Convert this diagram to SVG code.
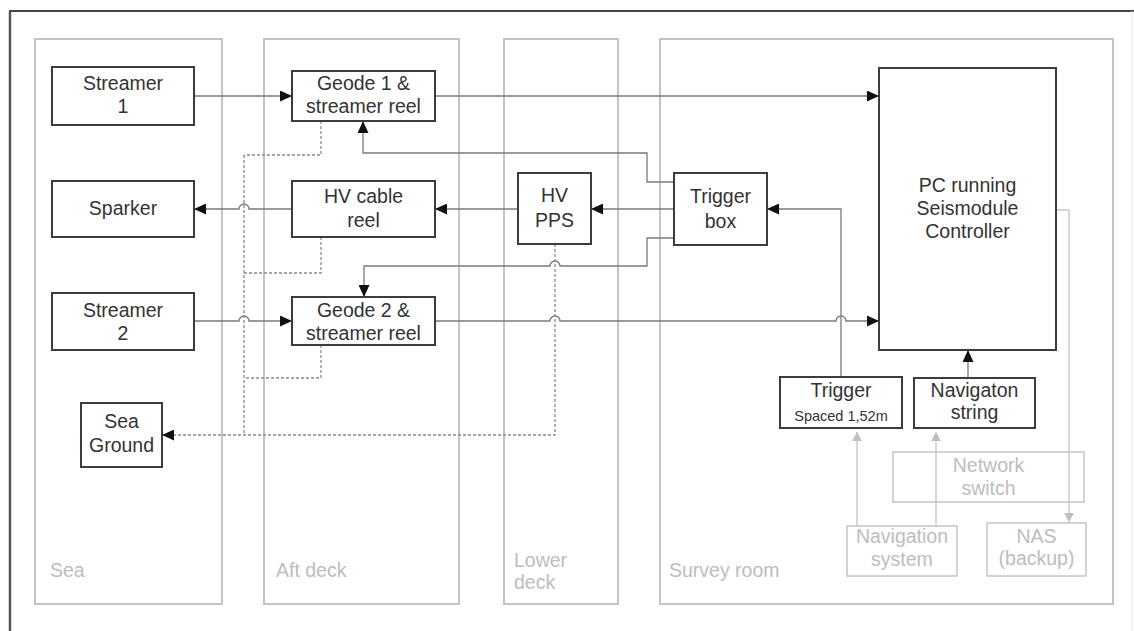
<svg xmlns="http://www.w3.org/2000/svg" width="1134" height="631" viewBox="0 0 1134 631">
<defs>
<style>
text{font-family:"Liberation Sans",Arial,sans-serif;font-size:19.5px;text-anchor:middle;fill:#333}
.zone{fill:none;stroke:#c4c4c4;stroke-width:2}
.zl{fill:#bdbdbd;text-anchor:start}
.box{fill:#fff;stroke:#3c3c3c;stroke-width:2}
.gbox{fill:none;stroke:#c4c4c4;stroke-width:1.5}
.gt{fill:#bdbdbd}
.small{font-size:14.5px}
.c{fill:none;stroke:#7a7a7a;stroke-width:1.3}
.d{fill:none;stroke:#8a8a8a;stroke-width:1.3;stroke-dasharray:3 2}
.g{fill:none;stroke:#c4c4c4;stroke-width:1.3}
</style>
<marker id="a" markerWidth="12" markerHeight="11" refX="12" refY="5.5" orient="auto" markerUnits="userSpaceOnUse"><path d="M0,0 L12,5.5 L0,11 z" fill="#111"/></marker>
<marker id="ga" markerWidth="9" markerHeight="10" refX="9" refY="5" orient="auto" markerUnits="userSpaceOnUse"><path d="M0,0 L9,5 L0,10 z" fill="#c0c0c0"/></marker>
</defs>
<rect x="0" y="0" width="1134" height="631" fill="#fff"/>
<g id="frame">
<line x1="9" y1="11" x2="1134" y2="11" stroke="#444" stroke-width="2"/>
<line x1="10" y1="11" x2="10" y2="631" stroke="#555" stroke-width="2.5"/>
<line x1="1132" y1="11" x2="1132" y2="631" stroke="#e4e4e4" stroke-width="1"/>
</g>
<g id="zones">
<rect class="zone" x="35" y="39" width="187" height="565"/>
<text class="zl" x="50" y="577">Sea</text>
<rect class="zone" x="264" y="39" width="195" height="565"/>
<text class="zl" x="276" y="577">Aft deck</text>
<rect class="zone" x="504" y="39" width="114" height="565"/>
<text class="zl" x="514" y="567">Lower</text>
<text class="zl" x="514" y="589">deck</text>
<rect class="zone" x="660" y="39" width="453" height="565"/>
<text class="zl" x="669" y="577">Survey room</text>
</g>
<g id="connectors">
<path class="c" d="M194,96 H292" marker-end="url(#a)"/>
<path class="c" d="M435,96 H879" marker-end="url(#a)"/>
<path class="c" d="M674,182 H647 V153 H363 V121" marker-end="url(#a)"/>
<path class="c" d="M292,209 H249 A5 5 0 0 0 239,209 H194" marker-end="url(#a)"/>
<path class="c" d="M518,209 H435" marker-end="url(#a)"/>
<path class="c" d="M674,209 H591" marker-end="url(#a)"/>
<path class="c" d="M841,377 V209 H767" marker-end="url(#a)"/>
<path class="c" d="M674,238 H647 V266 H560 A5 5 0 0 0 550,266 H364 V297" marker-end="url(#a)"/>
<path class="c" d="M194,321 H239 A5 5 0 0 1 249,321 H292" marker-end="url(#a)"/>
<path class="c" d="M435,321 H550 A5 5 0 0 1 560,321 H836 A5 5 0 0 1 846,321 H879" marker-end="url(#a)"/>
<path class="c" d="M968,378 V350" marker-end="url(#a)"/>
<path class="d" d="M321,121 V155 H244"/>
<path class="d" d="M321,237 V273 H244"/>
<path class="d" d="M321,345 V378 H244"/>
<path class="d" d="M244,155 V435"/>
<path class="d" d="M555,244 V435 H162" marker-end="url(#a)"/>
<path class="g" d="M857,526 V432" marker-end="url(#ga)"/>
<path class="g" d="M936,526 V432" marker-end="url(#ga)"/>
<path class="g" d="M1056,210 H1069 V522" marker-end="url(#ga)"/>
</g>
<g id="streamer1"><rect class="box" x="52" y="67" width="142" height="58"/><text x="123" y="90">Streamer</text><text x="123" y="113">1</text></g>
<g id="sparker"><rect class="box" x="52" y="181" width="142" height="56"/><text x="123" y="215">Sparker</text></g>
<g id="streamer2"><rect class="box" x="52" y="293" width="142" height="57"/><text x="123" y="317">Streamer</text><text x="123" y="340">2</text></g>
<g id="seaground"><rect class="box" x="81" y="403" width="81" height="64"/><text x="121.5" y="428">Sea</text><text x="121.5" y="452">Ground</text></g>
<g id="geode1"><rect class="box" x="292" y="71" width="143" height="50"/><text x="363.5" y="90">Geode 1 &amp;</text><text x="363.5" y="113">streamer reel</text></g>
<g id="hvreel"><rect class="box" x="292" y="181" width="143" height="56"/><text x="363.5" y="203">HV cable</text><text x="363.5" y="227">reel</text></g>
<g id="geode2"><rect class="box" x="292" y="297" width="143" height="48"/><text x="363.5" y="317">Geode 2 &amp;</text><text x="363.5" y="340">streamer reel</text></g>
<g id="hvpps"><rect class="box" x="518" y="173" width="73" height="71"/><text x="554.5" y="202">HV</text><text x="554.5" y="227">PPS</text></g>
<g id="triggerbox"><rect class="box" x="674" y="173" width="93" height="72"/><text x="720.5" y="203">Trigger</text><text x="720.5" y="228">box</text></g>
<g id="pc"><rect class="box" x="879" y="68" width="177" height="282"/><text x="967.5" y="192">PC running</text><text x="967.5" y="215">Seismodule</text><text x="967.5" y="238">Controller</text></g>
<g id="trigger"><rect class="box" x="780" y="377" width="122" height="51"/><text x="841" y="397">Trigger</text><text class="small" x="841" y="421">Spaced 1,52m</text></g>
<g id="navstring"><rect class="box" x="914" y="378" width="121" height="50"/><text x="974.5" y="397">Navigaton</text><text x="974.5" y="419">string</text></g>
<g id="netswitch"><rect class="gbox" x="893" y="452" width="191" height="50"/><text class="gt" x="988.5" y="472">Network</text><text class="gt" x="988.5" y="495">switch</text></g>
<g id="navsystem"><rect class="gbox" x="847" y="526" width="110" height="50"/><text class="gt" x="902" y="543">Navigation</text><text class="gt" x="902" y="566">system</text></g>
<g id="nas"><rect class="gbox" x="987" y="523" width="99" height="53"/><text class="gt" x="1036.5" y="543">NAS</text><text class="gt" x="1036.5" y="565">(backup)</text></g>
</svg>
